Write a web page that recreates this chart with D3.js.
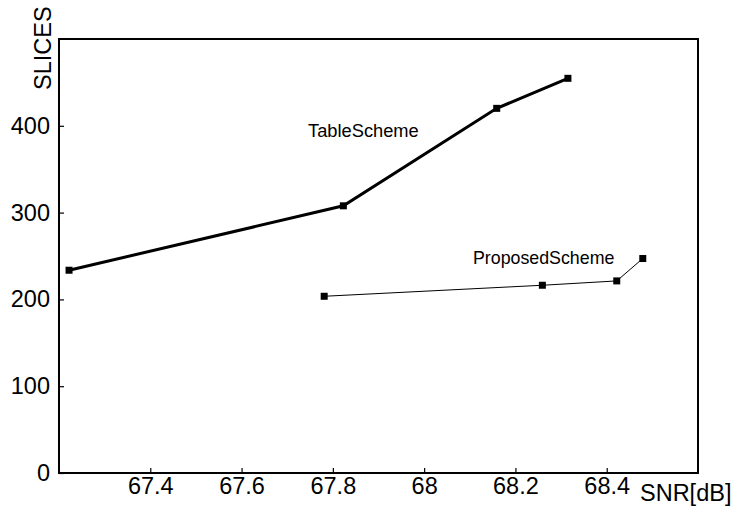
<!DOCTYPE html>
<html lang="en">
<head>
  <meta charset="UTF-8">
  <script src="https://cdn.jsdelivr.net/npm/d3@7"></script>
  <title>SLICES vs SNR</title>
  <style>
    body { margin: 0; background: #fff; }
    text { font-family: Arial, "Liberation Sans", sans-serif; fill: #000; }
  </style>
</head>
<body>
  <script>
    // data
    const tableSnr = [67.222, 67.823, 68.159, 68.315];
    const tableSlices = [233.6, 307.8, 420.1, 454.7];
    const propSnr = [67.781, 68.259, 68.422, 68.479];
    const propSlices = [203.6, 216.3, 221.3, 247.1];
    const xTicks = [67.4, 67.6, 67.8, 68, 68.2, 68.4];
    const yTicks = [0, 100, 200, 300, 400];

    const W = 737, H = 510;
    const m = { left: 59, right: 39, top: 39, bottom: 37 };

    const svg = d3.select('body').append('svg')
      .attr('width', W)
      .attr('height', H);

    const x = d3.scaleLinear().domain([67.2, 68.6]).range([m.left, W - m.right]);
    const y = d3.scaleLinear().domain([0, 500]).range([H - m.bottom, m.top]);

    // frame
    svg.append('rect')
      .attr('x', x(67.2)).attr('y', y(500))
      .attr('width', x(68.6) - x(67.2)).attr('height', y(0) - y(500))
      .attr('fill', 'none').attr('stroke', '#000').attr('stroke-width', 2);

    // axes, ticks pointing inward
    const xAxis = svg.append('g')
      .attr('transform', `translate(0,${y(0)})`)
      .call(d3.axisBottom(x).tickValues(xTicks).tickFormat(d3.format('')).tickSizeInner(-5).tickSizeOuter(0).tickPadding(4));
    xAxis.select('.domain').remove();
    xAxis.selectAll('line').attr('stroke-width', 1.2);
    xAxis.selectAll('text').style('font-size', '23.5px').attr('font-family', null);

    const yAxis = svg.append('g')
      .attr('transform', `translate(${x(67.2)},0)`)
      .call(d3.axisLeft(y).tickValues(yTicks).tickSizeInner(-5).tickSizeOuter(0).tickPadding(9));
    yAxis.select('.domain').remove();
    yAxis.selectAll('line').attr('stroke-width', 1.2);
    yAxis.selectAll('text').style('font-size', '23.5px').attr('font-family', null);

    // axis titles
    svg.append('text')
      .attr('transform', `translate(51,90) rotate(-90)`)
      .style('font-size', '23.5px')
      .text('SLICES');
    svg.append('text')
      .attr('x', 640).attr('y', 501)
      .style('font-size', '23.5px')
      .text('SNR[dB]');

    const line = d3.line().x(d => x(d[0])).y(d => y(d[1]));

    function series(snr, slices, width) {
      const pts = snr.map((d, i) => [d, slices[i]]);
      svg.append('path').datum(pts)
        .attr('d', line)
        .attr('fill', 'none')
        .attr('stroke', '#000')
        .attr('stroke-width', width);
      svg.selectAll(null).data(pts).enter().append('rect')
        .attr('x', d => x(d[0]) - 3.5)
        .attr('y', d => y(d[1]) - 3.5)
        .attr('width', 7).attr('height', 7)
        .attr('fill', '#000');
    }
    series(tableSnr, tableSlices, 3);
    series(propSnr, propSlices, 1);

    // series labels
    svg.append('text').attr('x', 308).attr('y', 137).style('font-size', '18.3px').text('TableScheme');
    svg.append('text').attr('x', 473).attr('y', 264).style('font-size', '17.8px').text('ProposedScheme');
  </script>
</body>
</html>
